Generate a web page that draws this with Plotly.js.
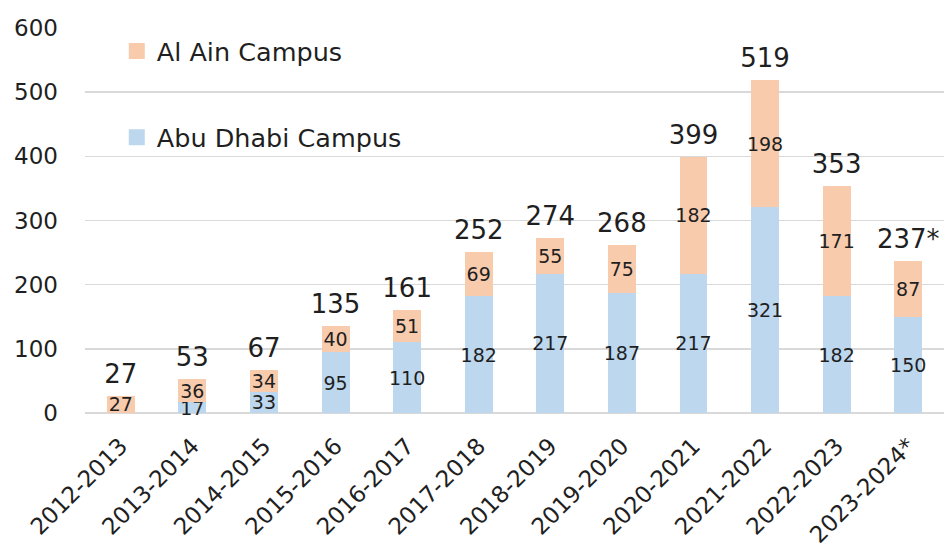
<!DOCTYPE html>
<html>
<head>
<meta charset="utf-8">
<script src="https://cdn.plot.ly/plotly-3.0.1.min.js"></script>
<style>html,body{margin:0;padding:0;background:#fff;}#chart{width:951px;height:550px;}</style>
</head>
<body>
<div id="chart"></div>
<script>
const years = ["2012-2013","2013-2014","2014-2015","2015-2016","2016-2017","2017-2018","2018-2019","2019-2020","2020-2021","2021-2022","2022-2023","2023-2024*"];
const abuDhabi = [0, 17, 33, 95, 110, 182, 217, 187, 217, 321, 182, 150];
const alAin = [27, 36, 34, 40, 51, 69, 55, 75, 182, 198, 171, 87];
const totalLabels = ["27","53","67","135","161","252","274","268","399","519","353","237*"];
const seriesNames = ["Abu Dhabi Campus", "Al Ain Campus"];
const seriesColors = ["#BDD7EE", "#F8CBAD"];

const FONT = "DejaVu Sans";
const TXT = "#1f1f1f";
const totals = abuDhabi.map((v, i) => v + alAin[i]);

const segText = arr => arr.map(v => v ? String(v) : "");

const barTrace = (name, vals, color) => ({
  type: "bar", name: name, x: years, y: vals,
  marker: {color: color},
  text: segText(vals), textposition: "inside", insidetextanchor: "middle",
  textangle: 0, constraintext: "none", cliponaxis: false,
  textfont: {family: FONT, size: 19, color: TXT},
  showlegend: false, hoverinfo: "skip"
});

const legendTrace = (name, color, group) => ({
  type: "scatter", mode: "markers", name: name, x: [years[0]], y: [null],
  marker: {symbol: "square", size: 16, color: color},
  legendgroup: group, showlegend: true, hoverinfo: "skip"
});

const traces = [
  barTrace(seriesNames[0], abuDhabi, seriesColors[0]),
  barTrace(seriesNames[1], alAin, seriesColors[1]),
  {
    type: "scatter", mode: "markers+text", x: years, y: totals, text: totalLabels,
    marker: {size: 9, color: "rgba(0,0,0,0)"},
    textposition: "top center", cliponaxis: false, showlegend: false,
    textfont: {family: FONT, size: 26, color: TXT}, hoverinfo: "skip"
  },
  legendTrace(seriesNames[1], seriesColors[1], "aa"),
  legendTrace(seriesNames[0], seriesColors[0], "ad")
];

const layout = {
  width: 951, height: 550,
  margin: {l: 85, r: 7, t: 28, b: 137},
  paper_bgcolor: "#fff", plot_bgcolor: "#fff",
  barmode: "stack", bargap: 0.61,
  font: {family: FONT, color: TXT},
  uniformtext: {mode: "show", minsize: 19},
  showlegend: true,
  legend: {
    x: 0.037, y: 1.0, xanchor: "left", yanchor: "top",
    traceorder: "grouped", tracegroupgap: 50,
    font: {family: FONT, size: 25.5, color: TXT},
    bgcolor: "rgba(0,0,0,0)", itemwidth: 30, itemsizing: "trace"
  },
  xaxis: {
    type: "category", range: [-0.5, years.length - 0.5], tickangle: -45,
    showgrid: false, showline: false, automargin: false,
    ticks: "", ticklabelstandoff: 14, tickfont: {family: FONT, size: 23, color: TXT}
  },
  yaxis: {
    range: [0, 600], dtick: 100, showgrid: true, gridcolor: "#D9D9D9", gridwidth: 1.5,
    zeroline: true, zerolinecolor: "#D9D9D9", zerolinewidth: 1.5, showline: false, automargin: false,
    ticks: "", ticklabelstandoff: 26, tickfont: {family: FONT, size: 23, color: TXT}
  }
};

Plotly.newPlot("chart", traces, layout, {staticPlot: true, displayModeBar: false});
</script>
</body>
</html>
